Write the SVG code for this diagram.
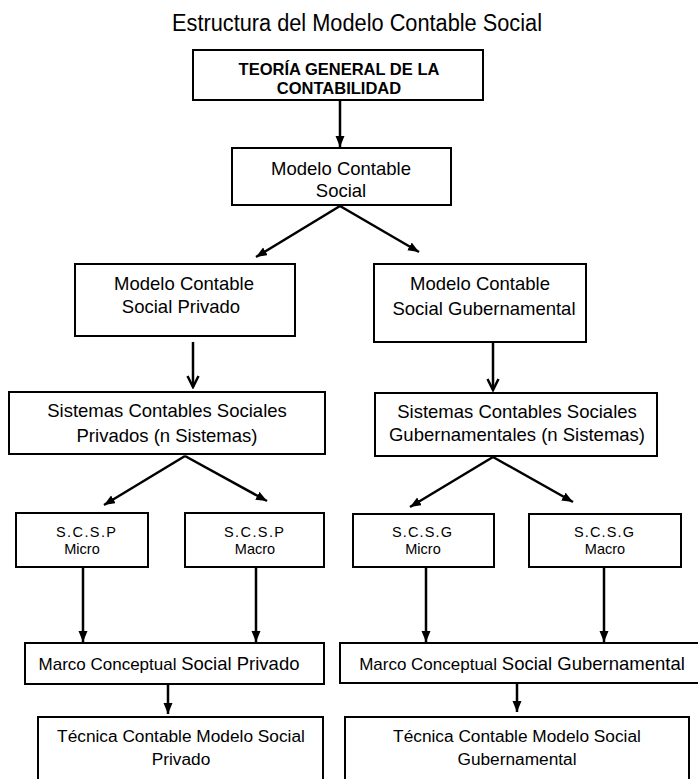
<svg xmlns="http://www.w3.org/2000/svg" width="698" height="779" viewBox="0 0 698 779">
  <defs>
    <style>
      .box { fill: #ffffff; stroke: #000000; stroke-width: 2; }
      .lbl { font-family: "Liberation Sans", Arial, sans-serif; fill: #000000; text-anchor: middle; }
      .t18 { font-size: 18.5px; }
      .t17 { font-size: 17.3px; }
      .t14 { font-size: 14.5px; }
      .bold { font-weight: bold; font-size: 16.5px; }
      .edge { stroke: #000000; stroke-width: 2.5; fill: none; }
      .solid { marker-end: url(#tri); }
      .open { marker-end: url(#vee); }
    </style>
    <marker id="tri" markerUnits="userSpaceOnUse" markerWidth="12" markerHeight="10" refX="11" refY="4.5" orient="auto">
      <path d="M0,0 L11,4.5 L0,9 z" fill="#000000"/>
    </marker>
    <marker id="vee" markerUnits="userSpaceOnUse" markerWidth="14" markerHeight="14" refX="12" refY="6.5" orient="auto">
      <path d="M1,1 L12,6.5 L1,12" fill="none" stroke="#000000" stroke-width="2.5"/>
    </marker>
  </defs>

  <rect width="698" height="779" fill="#ffffff"/>

  <text class="lbl" x="357" y="31" font-size="23.5" fill="#222222" textLength="370" lengthAdjust="spacingAndGlyphs">Estructura del Modelo Contable Social</text>

  <g id="connectors">
    <line class="edge solid" x1="340" y1="100" x2="340" y2="147"/>
    <line class="edge solid" x1="340" y1="206" x2="256" y2="257"/>
    <line class="edge solid" x1="340" y1="206" x2="419" y2="252"/>
    <line class="edge open" x1="193" y1="342" x2="193" y2="387"/>
    <line class="edge open" x1="493" y1="343" x2="493" y2="390"/>
    <line class="edge solid" x1="185" y1="456" x2="104" y2="505"/>
    <line class="edge solid" x1="185" y1="456" x2="267" y2="501"/>
    <line class="edge solid" x1="493" y1="457" x2="410" y2="507"/>
    <line class="edge solid" x1="493" y1="457" x2="573" y2="502"/>
    <line class="edge solid" x1="83" y1="567" x2="83" y2="642"/>
    <line class="edge solid" x1="256" y1="567" x2="256" y2="642"/>
    <line class="edge solid" x1="426" y1="567" x2="426" y2="642"/>
    <line class="edge solid" x1="604" y1="567" x2="604" y2="642"/>
    <line class="edge solid" x1="168" y1="684" x2="168" y2="714"/>
    <line class="edge solid" x1="517" y1="683" x2="517" y2="712"/>
  </g>

  <g id="teoria-general">
    <rect class="box" x="193" y="50" width="290" height="50"/>
    <text class="lbl bold" x="339" y="75">TEORÍA GENERAL DE LA</text>
    <text class="lbl bold" x="339" y="94">CONTABILIDAD</text>
  </g>

  <g id="modelo-social">
    <rect class="box" x="232" y="148" width="219" height="57"/>
    <text class="lbl t18" x="341" y="175">Modelo Contable</text>
    <text class="lbl t18" x="341" y="197">Social</text>
  </g>

  <g id="modelo-privado">
    <rect class="box" x="75" y="264" width="220" height="72"/>
    <text class="lbl t18" x="184" y="290">Modelo Contable</text>
    <text class="lbl t18" x="181" y="313">Social Privado</text>
  </g>

  <g id="modelo-gubernamental">
    <rect class="box" x="374" y="264" width="212" height="78"/>
    <text class="lbl t18" x="480" y="290">Modelo Contable</text>
    <text class="lbl t18" x="484" y="315">Social Gubernamental</text>
  </g>

  <g id="sistemas-privados">
    <rect class="box" x="9" y="392" width="316" height="62"/>
    <text class="lbl t18" x="167" y="417">Sistemas Contables Sociales</text>
    <text class="lbl t18" x="167" y="442">Privados (n Sistemas)</text>
  </g>

  <g id="sistemas-gubernamentales">
    <rect class="box" x="375" y="393" width="282" height="63"/>
    <text class="lbl t18" x="517" y="418">Sistemas Contables Sociales</text>
    <text class="lbl t18" x="517" y="441">Gubernamentales (n Sistemas)</text>
  </g>

  <g id="scsp-micro">
    <rect class="box" x="16" y="513" width="132" height="54"/>
    <text class="lbl t14" x="86" y="537" textLength="60" lengthAdjust="spacing">S.C.S.P</text>
    <text class="lbl t14" x="82" y="554">Micro</text>
  </g>

  <g id="scsp-macro">
    <rect class="box" x="185" y="513" width="139" height="54"/>
    <text class="lbl t14" x="254" y="537" textLength="60" lengthAdjust="spacing">S.C.S.P</text>
    <text class="lbl t14" x="255" y="554">Macro</text>
  </g>

  <g id="scsg-micro">
    <rect class="box" x="353" y="514" width="141" height="53"/>
    <text class="lbl t14" x="422" y="537" textLength="60" lengthAdjust="spacing">S.C.S.G</text>
    <text class="lbl t14" x="423" y="554">Micro</text>
  </g>

  <g id="scsg-macro">
    <rect class="box" x="529" y="514" width="152" height="53"/>
    <text class="lbl t14" x="604" y="537" textLength="60" lengthAdjust="spacing">S.C.S.G</text>
    <text class="lbl t14" x="605" y="554">Macro</text>
  </g>

  <g id="marco-privado">
    <rect class="box" x="25" y="643" width="299" height="41"/>
    <text class="lbl" x="169" y="670"><tspan font-size="17">Marco Conceptual </tspan><tspan font-size="18.5">Social Privado</tspan></text>
  </g>

  <g id="marco-gubernamental">
    <rect class="box" x="340" y="643" width="362" height="40"/>
    <text class="lbl" x="522" y="670"><tspan font-size="17">Marco Conceptual </tspan><tspan font-size="18.5">Social Gubernamental</tspan></text>
  </g>

  <g id="tecnica-privado">
    <rect class="box" x="38" y="717" width="285" height="66"/>
    <text class="lbl t17" x="181" y="742">Técnica Contable Modelo Social</text>
    <text class="lbl t17" x="181" y="765">Privado</text>
  </g>

  <g id="tecnica-gubernamental">
    <rect class="box" x="345" y="717" width="344" height="66"/>
    <text class="lbl t17" x="517" y="742">Técnica Contable Modelo Social</text>
    <text class="lbl t17" x="517" y="765">Gubernamental</text>
  </g>
</svg>
